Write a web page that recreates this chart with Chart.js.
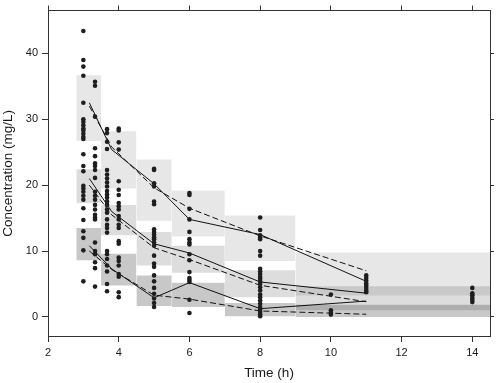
<!DOCTYPE html>
<html>
<head>
<meta charset="utf-8">
<script src="https://cdn.jsdelivr.net/npm/chart.js@4/dist/chart.umd.min.js"></script>
<style>
html,body{margin:0;padding:0;background:#fff;}
#c{display:block;}
</style>
</head>
<body>
<canvas id="c" width="498" height="383"></canvas>
<script>
// ---- axis ticks ----
const xTicks = [2, 4, 6, 8, 10, 12, 14];
const yTicks = [0, 10, 20, 30, 40];

// ---- observed concentrations by sampling time ----
const obsTimes = [3, 3.33, 3.67, 4, 5, 6, 8, 10, 11, 14];
const obsAt3 = [43.4, 39.0, 38.0, 36.6, 32.5, 30.0, 29.6, 29.1, 28.6, 28.3, 27.8, 27.3, 27.0, 24.7, 22.9, 22.1, 19.9, 19.5, 19.0, 18.4, 17.8, 16.5, 14.7, 13.0, 12.0, 10.1, 5.4];
const obsAt333 = [35.7, 35.1, 30.4, 25.6, 24.4, 23.3, 22.9, 22.3, 21.1, 19.0, 18.4, 17.8, 17.0, 16.3, 15.5, 15.1, 14.8, 11.3, 10.0, 9.5, 8.3, 7.4, 4.6];
const obsAt367 = [28.5, 27.9, 26.6, 25.5, 22.3, 21.6, 21.0, 20.4, 19.8, 19.1, 18.6, 18.1, 17.5, 17.0, 16.3, 15.8, 14.8, 14.0, 13.5, 12.8, 10.0, 9.5, 8.8, 7.8, 6.9, 5.0, 3.9];
const obsAt4 = [28.6, 28.3, 26.5, 25.4, 20.6, 19.3, 18.5, 17.3, 16.8, 16.3, 15.3, 14.8, 14.0, 13.5, 11.5, 11.1, 9.0, 8.5, 7.8, 6.5, 6.1, 3.75, 3.0];
const obsAt5 = [22.5, 22.3, 20.3, 19.8, 17.5, 17.1, 13.3, 12.9, 12.5, 12.1, 11.8, 11.3, 10.8, 9.3, 8.1, 7.6, 6.3, 5.4, 4.4, 3.5, 2.8, 2.1, 1.5];
const obsAt6 = [18.8, 18.5, 16.4, 14.8, 12.9, 11.8, 11.3, 11.0, 9.5, 8.6, 6.8, 5.9, 5.6, 5.3, 2.6, 0.6];
const obsAt8 = [15.1, 13.2, 12.4, 12.1, 11.8, 10.0, 9.3, 7.3, 6.9, 6.5, 6.1, 5.8, 5.4, 5.0, 4.5, 4.0, 3.4, 3.0, 2.5, 2.0, 1.5, 1.1, 0.75, 0.4, 0.1];
const obsAt10 = [3.4, 1.0, 0.65, 0.35];
const obsAt11 = [6.3, 5.9, 5.5, 5.1, 4.75, 4.4, 4.0, 3.75];
const obsAt14 = [4.4, 3.6, 3.3, 2.9, 2.6, 2.25];
const obsConc = [obsAt3, obsAt333, obsAt367, obsAt4, obsAt5, obsAt6, obsAt8, obsAt10, obsAt11, obsAt14];

// ---- percentile lines at bin midpoints ----
const binMid = [3.17, 3.8, 5, 6, 8, 11];
const obsP95 = [32.5, 25.4, 20.2, 14.8, 12.5, 5.4];
const obsP50 = [21.0, 16.0, 11.1, 9.7, 5.3, 3.6];
const obsP05 = [10.8, 7.3, 2.9, 5.2, 1.25, 2.4];
const simP95 = [32.0, 25.8, 19.6, 16.5, 12.3, 7.0];
const simP50 = [20.0, 15.5, 10.5, 8.7, 4.8, 2.3];
const simP05 = [10.0, 7.2, 3.3, 2.7, 0.9, 0.4];

// ---- bins and confidence boxes of simulated percentiles ----
const binEdges = [2.8, 3.5, 4.5, 5.5, 7, 9, 14.5];
const ciUpperLo = [26.7, 19.5, 14.6, 12.2, 8.5, 3.26];
const ciUpperHi = [36.7, 28.2, 23.9, 19.2, 15.4, 9.76];
const ciMedLo = [17.3, 12.4, 7.8, 6.7, 3.0, 1.0];
const ciMedHi = [22.4, 17.0, 12.9, 10.8, 7.1, 4.65];
const ciLowLo = [8.6, 4.75, 1.65, 1.5, 0.1, 0.0];
const ciLowHi = [13.5, 9.6, 6.3, 5.2, 2.1, 1.86];

const FONT = "'Liberation Sans', Arial, sans-serif";
const INK = '#1a1a1a';
const FRAME = '#333';

const datasets = [];

// observed points
const pts = [];
obsTimes.forEach((t, i) => obsConc[i].forEach(v => pts.push({x: t, y: v})));
datasets.push({
  type: 'scatter', data: pts, pointRadius: 2.3, pointBackgroundColor: '#1e1e1e',
  pointBorderWidth: 0, borderWidth: 0, order: 0
});

function lineSet(vals, dashed) {
  return {
    type: 'line', data: binMid.map((x, i) => ({x: x, y: vals[i]})),
    borderColor: '#111', borderWidth: 1, borderDash: dashed ? [6, 3] : [],
    pointRadius: 0, fill: false, tension: 0, order: 1
  };
}
datasets.push(lineSet(obsP95, false), lineSet(obsP50, false), lineSet(obsP05, false));
datasets.push(lineSet(simP95, true), lineSet(simP50, true), lineSet(simP05, true));

function boxSets(lo, hi, color) {
  for (let i = 0; i < lo.length; i++) {
    datasets.push({
      type: 'line',
      data: [{x: binEdges[i], y: hi[i]}, {x: binEdges[i + 1], y: hi[i]}],
      borderColor: 'rgba(0,0,0,0)', borderWidth: 0, pointRadius: 0,
      backgroundColor: color, fill: {value: lo[i]}, tension: 0, order: 5
    });
  }
}
boxSets(ciUpperLo, ciUpperHi, 'rgba(0,0,0,0.095)');
boxSets(ciMedLo, ciMedHi, 'rgba(0,0,0,0.135)');
boxSets(ciLowLo, ciLowHi, 'rgba(0,0,0,0.215)');

function setTicks(list) {
  return function (scale) { scale.ticks = list.map(v => ({value: v})); };
}

new Chart(document.getElementById('c'), {
  type: 'scatter',
  data: {datasets: datasets},
  options: {
    responsive: false,
    animation: false,
    devicePixelRatio: 1,
    layout: {padding: 0},
    plugins: {legend: {display: false}, tooltip: {enabled: false}},
    scales: {
      x: {
        type: 'linear', position: 'bottom', min: 2, max: 14.5,
        afterBuildTicks: setTicks(xTicks),
        afterFit: s => { s.height = 47; },
        border: {display: true, color: FRAME, width: 1},
        grid: {drawOnChartArea: false, drawTicks: true, tickLength: 6, color: FRAME},
        ticks: {color: INK, font: {family: FONT, size: 11}, padding: 4, maxRotation: 0},
        title: {display: true, text: 'Time (h)', color: INK, font: {family: FONT, size: 13.5}, padding: {top: 0, bottom: 2}}
      },
      x2: {
        type: 'linear', position: 'top', min: 2, max: 14.5,
        afterBuildTicks: setTicks(xTicks),
        afterFit: s => { s.height = 7; },
        border: {display: true, color: FRAME, width: 1},
        grid: {drawOnChartArea: false, drawTicks: true, tickLength: 5, color: FRAME},
        ticks: {display: false}
      },
      y: {
        type: 'linear', position: 'left', min: -2.9, max: 46.5,
        afterBuildTicks: setTicks(yTicks),
        afterFit: s => { s.width = 48; },
        border: {display: true, color: FRAME, width: 1},
        grid: {drawOnChartArea: false, drawTicks: true, tickLength: 6, color: FRAME},
        ticks: {color: INK, font: {family: FONT, size: 11}, padding: 4},
        title: {display: true, text: 'Concentration (mg/L)', color: INK, font: {family: FONT, size: 13.5}, padding: 0}
      },
      y2: {
        type: 'linear', position: 'right', min: -2.9, max: 46.5,
        afterBuildTicks: setTicks(yTicks),
        afterFit: s => { s.width = 8; },
        border: {display: true, color: FRAME, width: 1},
        grid: {drawOnChartArea: false, drawTicks: true, tickLength: 4, color: FRAME},
        ticks: {display: false}
      }
    }
  }
});
</script>
</body>
</html>
